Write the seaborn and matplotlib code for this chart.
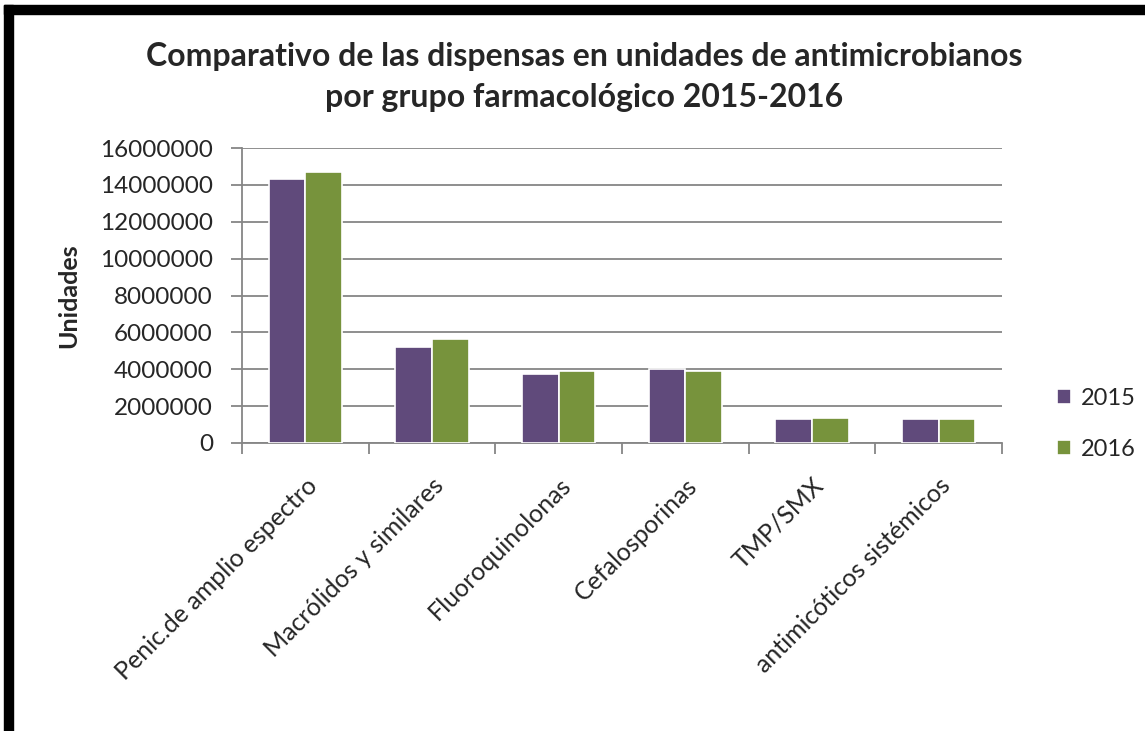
#plot.py

import pandas as pd
import seaborn as sns
import matplotlib.pyplot as plt
from matplotlib.patches import Rectangle
from matplotlib.ticker import FixedLocator

# data
grupos = ["Penic.de amplio espectro", "Macrólidos y similares", "Fluoroquinolonas",
          "Cefalosporinas", "TMP/SMX", "antimicóticos sistémicos"]
anios = ["2015", "2016"]
unidades_2015 = [14320000, 5190000, 3730000, 4000000, 1300000, 1300000]
unidades_2016 = [14680000, 5640000, 3920000, 3920000, 1380000, 1300000]
y_ticks = [0, 2000000, 4000000, 6000000, 8000000, 10000000, 12000000, 14000000, 16000000]

#build long table for seaborn
data = pd.DataFrame({
    "grupo": grupos * 2,
    "anio": [anios[0]] * len(grupos) + [anios[1]] * len(grupos),
    "unidades": unidades_2015 + unidades_2016,
})

sns.set_style("white")
plt.rcParams["font.family"] = ["Lato", "DejaVu Sans"]

fig = plt.figure(figsize=(11.45, 7.31), dpi=100)
ax = fig.add_axes([0.2114, 0.394, 0.875 - 0.2114, 0.7975 - 0.394])

sns.barplot(data=data, x="grupo", y="unidades", hue="anio", order=grupos, hue_order=anios,
            palette=["#604A7B", "#77933C"], width=0.58, saturation=1,
            edgecolor="white", linewidth=1.2, ax=ax, zorder=3)

grid_col = "#868686"
txt_col = "#262626"
ax.set_ylim(0, 16000000)
ax.set_xlim(-0.5, len(grupos) - 0.5)
ax.set_yticks(y_ticks)
ax.set_yticklabels([str(v) for v in y_ticks], fontsize=17.5, color=txt_col)
ax.yaxis.grid(True, color=grid_col, linewidth=1.3, zorder=0)
ax.set_axisbelow(True)

# category ticks at the boundaries, labels at the centres
ax.set_xticks(range(len(grupos)))
ax.set_xticklabels(grupos, rotation=45, ha="right", rotation_mode="anchor", fontsize=18, color=txt_col)
ax.xaxis.set_minor_locator(FixedLocator([i - 0.5 for i in range(len(grupos) + 1)]))
ax.tick_params(axis="x", which="major", length=0, pad=22)
ax.tick_params(axis="x", which="minor", length=8, width=1.3, color=grid_col, direction="out", bottom=True)
ax.tick_params(axis="y", length=8, width=1.3, color=grid_col, direction="out", left=True, pad=13)

for side in ["top", "right"]:
    ax.spines[side].set_visible(False)
for side in ["left", "bottom"]:
    ax.spines[side].set_color(grid_col)
    ax.spines[side].set_linewidth(1.3)

ax.set_xlabel("")
ax.set_ylabel("Unidades", fontsize=18, fontweight="bold", labelpad=14, color=txt_col)

ax.legend(title=None, frameon=False, fontsize=17, loc="center left",
          bbox_to_anchor=(1.045, 0.065), handlelength=0.6, handleheight=0.6,
          labelspacing=1.25, handletextpad=0.4)

fig.suptitle("Comparativo de las dispensas en unidades de antimicrobianos\npor grupo farmacológico 2015-2016",
             fontsize=23, fontweight="bold", x=0.51, y=0.943, va="top", linespacing=1.5, color=txt_col)

# thick black frame on the left and top edges
fig.patches.append(Rectangle((4 / 1145, 0), 9 / 1145, 1 - 5 / 731, transform=fig.transFigure, color="black"))
fig.patches.append(Rectangle((4 / 1145, 1 - 14 / 731), 1 - 4 / 1145, 9 / 731, transform=fig.transFigure, color="black"))

fig.savefig("out.png", dpi=100)
